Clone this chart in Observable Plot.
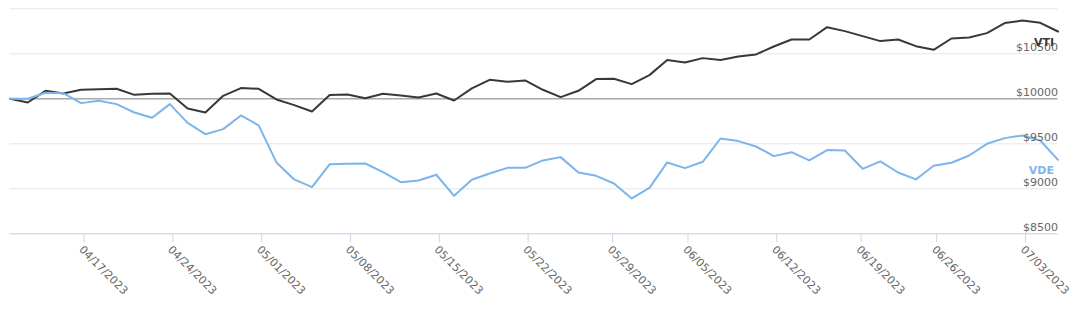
<!DOCTYPE html>
<html><head><meta charset="utf-8">
<script src="https://cdn.jsdelivr.net/npm/d3@7"></script>
<script src="https://cdn.jsdelivr.net/npm/@observablehq/plot@0.6"></script>
<style>html,body{margin:0;padding:0;background:#fff;} #chart svg{display:block}</style>
</head><body><div id="chart"></div>
<script>
// Trading days (ordinal axis)
const dates = [
  "2023-04-11","2023-04-12","2023-04-13","2023-04-14",
  "2023-04-17","2023-04-18","2023-04-19","2023-04-20","2023-04-21",
  "2023-04-24","2023-04-25","2023-04-26","2023-04-27","2023-04-28",
  "2023-05-01","2023-05-02","2023-05-03","2023-05-04","2023-05-05",
  "2023-05-08","2023-05-09","2023-05-10","2023-05-11","2023-05-12",
  "2023-05-15","2023-05-16","2023-05-17","2023-05-18","2023-05-19",
  "2023-05-22","2023-05-23","2023-05-24","2023-05-25","2023-05-26",
  "2023-05-30","2023-05-31","2023-06-01","2023-06-02",
  "2023-06-05","2023-06-06","2023-06-07","2023-06-08","2023-06-09",
  "2023-06-12","2023-06-13","2023-06-14","2023-06-15","2023-06-16",
  "2023-06-20","2023-06-21","2023-06-22","2023-06-23",
  "2023-06-26","2023-06-27","2023-06-28","2023-06-29","2023-06-30",
  "2023-07-03","2023-07-05","2023-07-06"
];
const vti = [
  10000, 9959, 10089, 10059, 10100, 10107, 10111, 10044, 10056, 10059,
  9893, 9848, 10033, 10119, 10111, 9993, 9930, 9859, 10041, 10048,
  10007, 10056, 10037, 10015, 10059, 9981, 10115, 10211, 10189, 10204,
  10100, 10019, 10089, 10219, 10222, 10163, 10263, 10430, 10404, 10452,
  10430, 10470, 10493, 10581, 10659, 10659, 10796, 10752, 10696, 10641,
  10659, 10585, 10544, 10670, 10681, 10730, 10841, 10870, 10844, 10748
];
const vde = [
  10000, 10000, 10067, 10063, 9952, 9978, 9941, 9848, 9789, 9941,
  9733, 9607, 9663, 9815, 9704, 9293, 9104, 9019, 9274, 9278,
  9281, 9185, 9074, 9093, 9156, 8922, 9100, 9170, 9233, 9233,
  9315, 9352, 9181, 9144, 9059, 8893, 9011, 9293, 9230, 9300,
  9559, 9530, 9470, 9363, 9407, 9315, 9430, 9426, 9222, 9304,
  9181, 9104, 9256, 9289, 9370, 9500, 9563, 9593, 9537, 9322
];
const seriesNames = ["VTI", "VDE"];
const seriesColors = ["#383838", "#7cb5ec"];
const tickDates = ["2023-04-17","2023-04-24","2023-05-01","2023-05-08","2023-05-15","2023-05-22",
                   "2023-05-29","2023-06-05","2023-06-12","2023-06-19","2023-06-26","2023-07-03"];
const gridTicks = [8500, 9000, 9500, 10000, 10500, 11000];
const yLabelTicks = [8500, 9000, 9500, 10000, 10500];
const baseline = 10000;

const parse = d3.utcParse("%Y-%m-%d");
const fmt = d3.utcFormat("%m/%d/%Y");
const t = dates.map(parse);
const values = [vti, vde];
const rows = [];
seriesNames.forEach((name, s) => values[s].forEach((v, i) => rows.push({series: name, i, date: t[i], value: v})));

function datePos(str) {
  const d = parse(str);
  for (let i = 0; i < t.length - 1; i++) {
    if (d >= t[i] && d <= t[i + 1]) return i + (d - t[i]) / (t[i + 1] - t[i]);
  }
  return NaN;
}
const tickPos = tickDates.map(datePos);
const tickLabel = new Map(tickPos.map((p, k) => [p, fmt(parse(tickDates[k]))]));

const chart = Plot.plot({
  width: 1082, height: 314,
  marginLeft: 9.5, marginRight: 24.5, marginTop: 8.3, marginBottom: 80.7,
  style: {fontFamily: "'DejaVu Sans', sans-serif", fontSize: "11px", background: "#fff"},
  x: {type: "linear", domain: [0, dates.length - 1], label: null},
  y: {domain: [8500, 11000], label: null},
  color: {domain: seriesNames, range: seriesColors},
  marks: [
    Plot.gridY(gridTicks, {stroke: "#e6e6e6", strokeOpacity: 1}),
    Plot.ruleY([baseline], {stroke: "#aaaaaa", strokeWidth: 1.5}),
    Plot.ruleY([8500], {stroke: "#ccd6eb", strokeWidth: 1}),
    Plot.lineY(rows, {x: "i", y: "value", z: "series", stroke: "series", strokeWidth: 2, strokeLinejoin: "round", strokeLinecap: "round"}),
    Plot.axisX(tickPos, {anchor: "bottom", label: null, tickSize: 9, tickPadding: 2, tickRotate: 45,
      textAnchor: "start", lineAnchor: "top", stroke: "#ccd6eb", fill: "#666666", fontSize: 11, dx: 3,
      tickFormat: d => tickLabel.get(d)}),
    Plot.axisY(yLabelTicks, {anchor: "right", label: null, tickSize: 0, tickPadding: 0, textAnchor: "end",
      dy: -6, fill: "#666666", fontSize: 11, tickFormat: d => "$" + d}),
    Plot.text(rows, Plot.selectLast({x: "i", y: "value", z: "series", text: "series", fill: "series",
      textAnchor: "end", dx: -4, dy: 11, fontWeight: "bold", fontSize: 11}))
  ]
});
document.getElementById("chart").appendChild(chart);
</script>
</body></html>
